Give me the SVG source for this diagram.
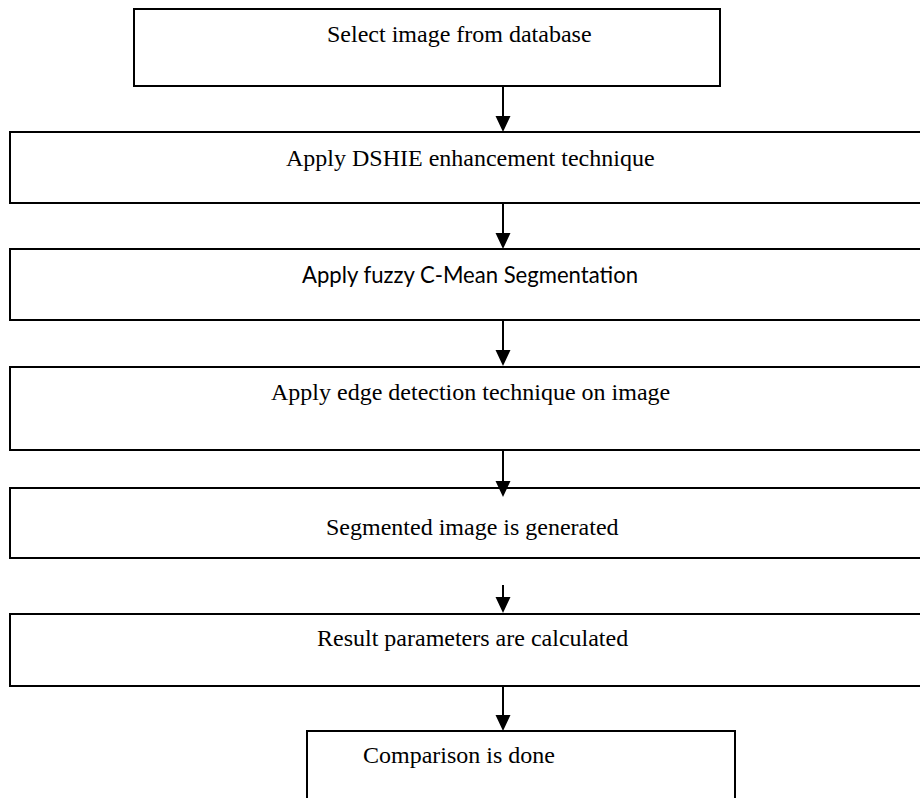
<svg xmlns="http://www.w3.org/2000/svg" width="920" height="798" viewBox="0 0 920 798">
<defs>
<style>
.box{fill:#fff;stroke:#000;stroke-width:2}
.t{font-family:"Liberation Serif","Times New Roman",serif;font-size:24px;fill:#000}
.s{font-family:Lato,"Liberation Sans",sans-serif;font-size:23px;fill:#000}
.c{stroke:#000;stroke-width:2;fill:none}
</style>
<marker id="ah" markerUnits="userSpaceOnUse" markerWidth="16" markerHeight="17" refX="8" refY="16" orient="auto-start-reverse" viewBox="0 0 16 17">
<path d="M0,0 L16,0 L8,16 Z" fill="#000" transform="rotate(0)"/>
</marker>
</defs>
<rect width="920" height="798" fill="#fff"/>
<g id="n1"><rect class="box" x="134" y="9" width="586" height="77"/><text class="t" x="327" y="42">Select image from database</text></g>
<g id="n2"><rect class="box" x="10" y="132" width="920" height="71"/><text class="t" x="286" y="166">Apply DSHIE enhancement technique</text></g>
<g id="n3"><rect class="box" x="10" y="249" width="920" height="71"/><text class="s" x="302" y="283" textLength="336" lengthAdjust="spacingAndGlyphs">Apply fuzzy C-Mean Segmentation</text></g>
<g id="n4"><rect class="box" x="10" y="367" width="920" height="83"/><text class="t" x="271" y="400">Apply edge detection technique on image</text></g>
<g id="n5"><rect class="box" x="10" y="488" width="920" height="70"/><text class="t" x="326" y="535">Segmented image is generated</text></g>
<g id="n6"><rect class="box" x="10" y="614" width="920" height="72"/><text class="t" x="317" y="646">Result parameters are calculated</text></g>
<g id="n7"><rect class="box" x="307" y="731" width="428" height="80"/><text class="t" x="363" y="763">Comparison is done</text></g>
<g id="connectors">
<path d="M503,0 L0,0" stroke="none"/>
<line class="c" x1="503" y1="86" x2="503" y2="117"/><path d="M495.5,116 L510.5,116 L503,132 Z"/>
<line class="c" x1="503" y1="203" x2="503" y2="234"/><path d="M495.5,233 L510.5,233 L503,249 Z"/>
<line class="c" x1="503" y1="320" x2="503" y2="351"/><path d="M495.5,350 L510.5,350 L503,366 Z"/>
<line class="c" x1="503" y1="450" x2="503" y2="482"/><path d="M495.5,481 L510.5,481 L503,497 Z"/>
<line class="c" x1="503" y1="585" x2="503" y2="598"/><path d="M495.5,597 L510.5,597 L503,613 Z"/>
<line class="c" x1="503" y1="686" x2="503" y2="716"/><path d="M495.5,715 L510.5,715 L503,731 Z"/>
</g>
</svg>
